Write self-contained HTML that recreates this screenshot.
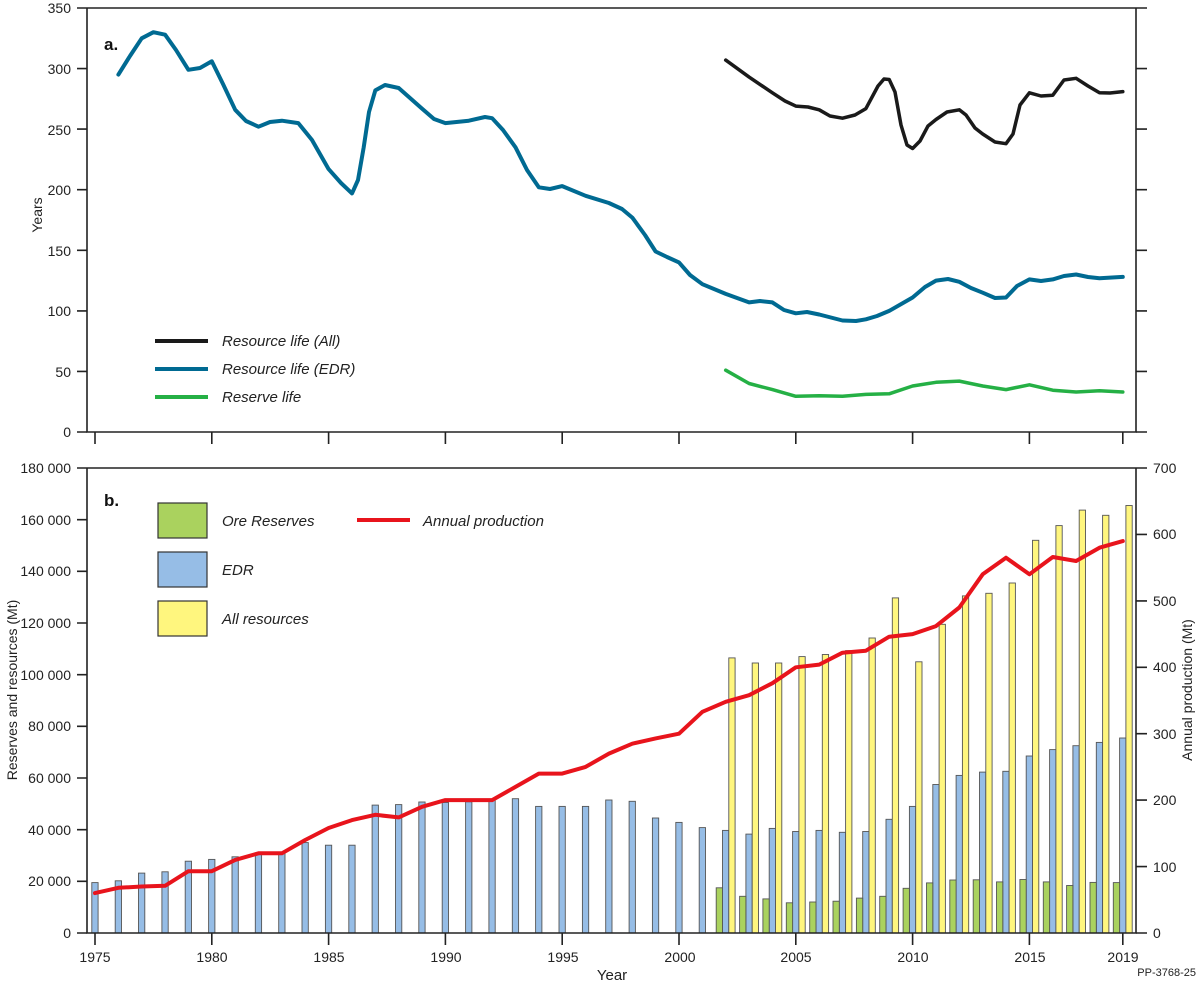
<!DOCTYPE html>
<html><head><meta charset="utf-8"><style>
html,body{margin:0;padding:0;background:#fff;}
svg{display:block;font-family:"Liberation Sans",Arial,sans-serif;}
.g{fill:#aad25e;stroke:#555;stroke-width:0.9}
.b{fill:#96bde6;stroke:#555;stroke-width:0.9}
.y{fill:#fff67e;stroke:#555;stroke-width:0.9}
</style></head><body>
<svg width="1200" height="988" viewBox="0 0 1200 988" xmlns="http://www.w3.org/2000/svg">
<g>
<rect class="b" x="91.8" y="882.6" width="6.3" height="50.4"/>
<rect class="b" x="115.2" y="880.8" width="6.3" height="52.2"/>
<rect class="b" x="138.5" y="873.1" width="6.3" height="59.9"/>
<rect class="b" x="161.9" y="871.8" width="6.3" height="61.2"/>
<rect class="b" x="185.2" y="861.2" width="6.3" height="71.8"/>
<rect class="b" x="208.6" y="859.4" width="6.3" height="73.6"/>
<rect class="b" x="232.0" y="856.8" width="6.3" height="76.2"/>
<rect class="b" x="255.3" y="852.9" width="6.3" height="80.1"/>
<rect class="b" x="278.7" y="852.9" width="6.3" height="80.1"/>
<rect class="b" x="302.0" y="842.6" width="6.3" height="90.4"/>
<rect class="b" x="325.4" y="845.2" width="6.3" height="87.8"/>
<rect class="b" x="348.8" y="845.2" width="6.3" height="87.8"/>
<rect class="b" x="372.1" y="805.1" width="6.3" height="127.9"/>
<rect class="b" x="395.5" y="804.6" width="6.3" height="128.4"/>
<rect class="b" x="418.8" y="802.0" width="6.3" height="131.0"/>
<rect class="b" x="442.2" y="802.5" width="6.3" height="130.5"/>
<rect class="b" x="465.6" y="801.8" width="6.3" height="131.2"/>
<rect class="b" x="488.9" y="800.0" width="6.3" height="133.0"/>
<rect class="b" x="512.3" y="798.7" width="6.3" height="134.3"/>
<rect class="b" x="535.6" y="806.4" width="6.3" height="126.6"/>
<rect class="b" x="559.0" y="806.4" width="6.3" height="126.6"/>
<rect class="b" x="582.4" y="806.4" width="6.3" height="126.6"/>
<rect class="b" x="605.7" y="800.0" width="6.3" height="133.0"/>
<rect class="b" x="629.1" y="801.3" width="6.3" height="131.7"/>
<rect class="b" x="652.4" y="818.0" width="6.3" height="115.0"/>
<rect class="b" x="675.8" y="822.4" width="6.3" height="110.6"/>
<rect class="b" x="699.2" y="827.6" width="6.3" height="105.4"/>
<rect class="b" x="722.5" y="830.4" width="6.3" height="102.6"/>
<rect class="b" x="745.9" y="834.1" width="6.3" height="98.9"/>
<rect class="b" x="769.2" y="828.4" width="6.3" height="104.6"/>
<rect class="b" x="792.6" y="831.5" width="6.3" height="101.5"/>
<rect class="b" x="816.0" y="830.4" width="6.3" height="102.6"/>
<rect class="b" x="839.3" y="832.3" width="6.3" height="100.7"/>
<rect class="b" x="862.7" y="831.5" width="6.3" height="101.5"/>
<rect class="b" x="886.0" y="819.3" width="6.3" height="113.7"/>
<rect class="b" x="909.4" y="806.4" width="6.3" height="126.6"/>
<rect class="b" x="932.8" y="784.5" width="6.3" height="148.5"/>
<rect class="b" x="956.1" y="775.4" width="6.3" height="157.6"/>
<rect class="b" x="979.5" y="772.1" width="6.3" height="160.9"/>
<rect class="b" x="1002.8" y="771.3" width="6.3" height="161.7"/>
<rect class="b" x="1026.2" y="756.0" width="6.3" height="177.0"/>
<rect class="b" x="1049.6" y="749.6" width="6.3" height="183.4"/>
<rect class="b" x="1072.9" y="745.7" width="6.3" height="187.3"/>
<rect class="b" x="1096.3" y="742.4" width="6.3" height="190.6"/>
<rect class="b" x="1119.6" y="738.0" width="6.3" height="195.0"/>

<rect class="g" x="716.2" y="887.8" width="6.3" height="45.2"/>
<rect class="g" x="739.6" y="896.3" width="6.3" height="36.7"/>
<rect class="g" x="762.9" y="898.9" width="6.3" height="34.1"/>
<rect class="g" x="786.3" y="902.8" width="6.3" height="30.2"/>
<rect class="g" x="809.7" y="902.0" width="6.3" height="31.0"/>
<rect class="g" x="833.0" y="901.2" width="6.3" height="31.8"/>
<rect class="g" x="856.4" y="898.1" width="6.3" height="34.9"/>
<rect class="g" x="879.7" y="896.3" width="6.3" height="36.7"/>
<rect class="g" x="903.1" y="888.3" width="6.3" height="44.7"/>
<rect class="g" x="926.5" y="882.9" width="6.3" height="50.1"/>
<rect class="g" x="949.8" y="880.0" width="6.3" height="53.0"/>
<rect class="g" x="973.2" y="879.8" width="6.3" height="53.2"/>
<rect class="g" x="996.5" y="881.9" width="6.3" height="51.1"/>
<rect class="g" x="1019.9" y="879.5" width="6.3" height="53.5"/>
<rect class="g" x="1043.3" y="881.9" width="6.3" height="51.1"/>
<rect class="g" x="1066.6" y="885.5" width="6.3" height="47.5"/>
<rect class="g" x="1090.0" y="882.4" width="6.3" height="50.6"/>
<rect class="g" x="1113.3" y="882.6" width="6.3" height="50.4"/>

<rect class="y" x="728.8" y="657.9" width="6.3" height="275.1"/>
<rect class="y" x="752.2" y="663.0" width="6.3" height="270.0"/>
<rect class="y" x="775.5" y="663.0" width="6.3" height="270.0"/>
<rect class="y" x="798.9" y="656.6" width="6.3" height="276.4"/>
<rect class="y" x="822.3" y="654.5" width="6.3" height="278.5"/>
<rect class="y" x="845.6" y="650.6" width="6.3" height="282.4"/>
<rect class="y" x="869.0" y="638.0" width="6.3" height="295.0"/>
<rect class="y" x="892.3" y="597.9" width="6.3" height="335.1"/>
<rect class="y" x="915.7" y="661.8" width="6.3" height="271.2"/>
<rect class="y" x="939.1" y="624.3" width="6.3" height="308.7"/>
<rect class="y" x="962.4" y="595.9" width="6.3" height="337.1"/>
<rect class="y" x="985.8" y="593.3" width="6.3" height="339.7"/>
<rect class="y" x="1009.1" y="583.0" width="6.3" height="350.0"/>
<rect class="y" x="1032.5" y="540.3" width="6.3" height="392.7"/>
<rect class="y" x="1055.9" y="525.6" width="6.3" height="407.4"/>
<rect class="y" x="1079.2" y="510.1" width="6.3" height="422.9"/>
<rect class="y" x="1102.6" y="515.3" width="6.3" height="417.7"/>
<rect class="y" x="1125.9" y="505.5" width="6.3" height="427.5"/>
</g>
<g fill="none" stroke-linejoin="round" stroke-linecap="round">
<polyline stroke="#e8141c" stroke-width="4" points="95,893.1 118.4,887.8 141.7,886.5 165.1,885.8 188.4,871.2 211.8,871.2 235.2,859.9 258.5,853.3 281.9,853.3 305.2,840.0 328.6,828.0 352.0,820.1 375.3,814.8 398.7,817.4 422.0,806.8 445.4,800.1 468.8,800.1 492.1,800.1 515.5,786.9 538.8,773.6 562.2,773.6 585.6,766.9 608.9,753.6 632.3,743.7 655.6,738.4 679.0,733.7 702.4,711.8 725.7,701.8 749.1,695.2 772.4,683.2 795.8,667.3 819.2,664.6 842.5,652.7 865.9,650.7 889.2,636.7 912.6,634.1 936.0,626.1 959.3,607.5 982.7,574.3 1006.0,557.7 1029.4,574.3 1052.8,557.0 1076.1,561.0 1099.5,547.7 1122.8,541.1"/>
<polyline stroke="#006a92" stroke-width="4" points="118.4,74.6 130,56 141.7,38.3 153.4,32.2 165.1,34.7 176,50 188.4,69.8 200,68 211.8,61.3 223,84 235.2,109.8 246,121 258.5,126.7 270,122 281.9,120.7 298.3,123.1 312,140 328.6,169.1 341,183 352.0,193.4 358,180 363.7,147.3 369,112 375.3,90.4 385,85 398.7,88.0 410,98 422.0,108.6 434,119 445.4,123.1 468.8,120.7 485,117 492.1,118.2 503,130 515.5,147.3 527,170 538.8,187.3 550,189 562.2,186.1 585.6,195.8 608.9,203.0 622,209 632.3,217.6 645,235 655.6,251.5 667,257 679.0,262.4 690,275 702.4,284.2 725.7,293.9 749.1,302.4 760,301 772.4,302.4 784,310 795.8,313.3 807,312 819.2,314.5 842.5,320.5 856,321 865.9,319.3 877,316 889.2,310.9 912.6,297.5 925,287 936.0,280.6 948,279 959.3,281.8 971,288 982.7,292.7 995,298 1006.0,297.5 1017,286 1029.4,279.4 1041,281 1052.8,279.4 1064,276 1076.1,274.5 1088,277 1099.5,278.2 1122.8,276.9"/>
<polyline stroke="#1a1a1a" stroke-width="3.5" points="725.7,60.1 749.1,77.1 772.4,92.8 785,101 795.8,106.1 808,107 819.2,109.8 830,116 842.5,118.2 855,115 865.9,108.6 878,86 884,79 889.2,79.5 895,92 901,125 907,145 912.6,148.5 920,141 928,126 936.0,119.5 947,112 959.3,109.8 966,115 975,128 982.7,134.0 995,142 1006.0,143.7 1013,134 1020,105 1029.4,92.8 1041,96 1052.8,95.2 1064,80 1076.1,78.3 1088,86 1099.5,92.8 1110,93 1122.8,91.6"/>
<polyline stroke="#25b045" stroke-width="3.5" points="725.7,370.2 749.1,383.5 772.4,389.6 795.8,396.3 819.2,395.7 842.5,396.3 865.9,394.4 889.2,393.8 912.6,386.0 936.0,382.3 959.3,381.1 982.7,386.0 1006.0,389.6 1029.4,384.8 1052.8,390.2 1076.1,392.0 1099.5,390.8 1122.8,392.0"/>
</g>
<g stroke="#222" stroke-width="1.6" fill="none">
<path d="M87 8 H1136 M87 8 V432 H1136 V8"/>
<path d="M87 468 H1136 M87 468 V933 H1136 V468"/>
<path d="M95 432v12M211.8 432v12M328.6 432v12M445.4 432v12M562.2 432v12M679 432v12M795.8 432v12M912.6 432v12M1029.4 432v12M1122.8 432v12"/>
<path d="M95 933v12M211.8 933v12M328.6 933v12M445.4 933v12M562.2 933v12M679 933v12M795.8 933v12M912.6 933v12M1029.4 933v12M1122.8 933v12"/>
<path d="M77 432h10M77 371.4h10M77 310.9h10M77 250.3h10M77 189.7h10M77 129.1h10M77 68.6h10M77 8h10"/>
<path d="M1136 432h11M1136 371.4h11M1136 310.9h11M1136 250.3h11M1136 189.7h11M1136 129.1h11M1136 68.6h11M1136 8h11"/>
<path d="M77 933h10M77 881.3h10M77 829.7h10M77 778h10M77 726.3h10M77 674.7h10M77 623h10M77 571.3h10M77 519.7h10M77 468h10"/>
<path d="M1136 933h11M1136 866.6h11M1136 800.1h11M1136 733.7h11M1136 667.3h11M1136 600.9h11M1136 534.4h11M1136 468h11"/>
</g>
<g font-size="14" fill="#222" text-anchor="end">
<text x="71" y="13">350</text><text x="71" y="74">300</text><text x="71" y="135">250</text><text x="71" y="195">200</text><text x="71" y="256">150</text><text x="71" y="316">100</text><text x="71" y="377">50</text><text x="71" y="437">0</text>
<text x="71" y="473">180 000</text><text x="71" y="525">160 000</text><text x="71" y="576">140 000</text><text x="71" y="628">120 000</text><text x="71" y="680">100 000</text><text x="71" y="731">80 000</text><text x="71" y="783">60 000</text><text x="71" y="835">40 000</text><text x="71" y="886">20 000</text><text x="71" y="938">0</text>
</g>
<g font-size="14" fill="#222" text-anchor="start">
<text x="1153" y="473">700</text><text x="1153" y="539">600</text><text x="1153" y="606">500</text><text x="1153" y="672">400</text><text x="1153" y="739">300</text><text x="1153" y="805">200</text><text x="1153" y="872">100</text><text x="1153" y="938">0</text>
</g>
<g font-size="14" fill="#222" text-anchor="middle">
<text x="95" y="962">1975</text><text x="212" y="962">1980</text><text x="329" y="962">1985</text><text x="446" y="962">1990</text><text x="563" y="962">1995</text><text x="680" y="962">2000</text><text x="796" y="962">2005</text><text x="913" y="962">2010</text><text x="1030" y="962">2015</text><text x="1123" y="962">2019</text>
<text x="612" y="980" font-size="15">Year</text>
</g>
<text x="1196" y="976" font-size="11" text-anchor="end" fill="#222">PP-3768-25</text>
<text transform="translate(42,215) rotate(-90)" font-size="14" text-anchor="middle" fill="#222">Years</text>
<text transform="translate(17,690) rotate(-90)" font-size="14" text-anchor="middle" fill="#222">Reserves and resources (Mt)</text>
<text transform="translate(1192,690) rotate(-90)" font-size="14" text-anchor="middle" fill="#222">Annual production (Mt)</text>
<text x="104" y="50" font-size="17" font-weight="bold" fill="#111">a.</text>
<text x="104" y="506" font-size="17" font-weight="bold" fill="#111">b.</text>
<g font-size="15" font-style="italic" fill="#222">
<line x1="155" y1="341" x2="208" y2="341" stroke="#1a1a1a" stroke-width="4"/>
<line x1="155" y1="369" x2="208" y2="369" stroke="#006a92" stroke-width="4"/>
<line x1="155" y1="397" x2="208" y2="397" stroke="#25b045" stroke-width="4"/>
<text x="222" y="346">Resource life (All)</text>
<text x="222" y="374">Resource life (EDR)</text>
<text x="222" y="402">Reserve life</text>
<rect x="158" y="503" width="49" height="35" fill="#aad25e" stroke="#333" stroke-width="1.2"/>
<rect x="158" y="552" width="49" height="35" fill="#96bde6" stroke="#333" stroke-width="1.2"/>
<rect x="158" y="601" width="49" height="35" fill="#fff67e" stroke="#333" stroke-width="1.2"/>
<text x="222" y="526">Ore Reserves</text>
<text x="222" y="575">EDR</text>
<text x="222" y="624">All resources</text>
<line x1="357" y1="520" x2="410" y2="520" stroke="#e8141c" stroke-width="4"/>
<text x="423" y="526">Annual production</text>
</g>
</svg>
</body></html>
